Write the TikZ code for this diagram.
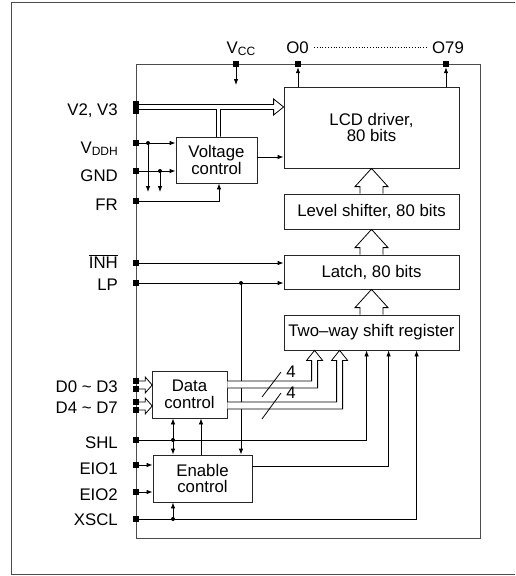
\documentclass[tikz,border=0pt]{standalone}
\usepackage{fontspec}
\setmainfont{Liberation Sans}
\usetikzlibrary{arrows.meta,calc}
\newcommand{\blockfont}{\fontsize{16.8}{16.8}\selectfont}
\newcommand{\pinsub}[1]{\raisebox{-0.3ex}{\fontsize{12}{12}\selectfont #1}}
\tikzset{
  >={Latex[length=6pt,width=4.5pt]},
  block/.style={
    draw=black!85,
    line width=0.8pt,
    fill=white,
    align=center,
    inner sep=0pt,
    font=\blockfont
  },
  padsq/.style={
    fill=black,
    inner sep=0pt,
    minimum size=6pt
  },
  plab/.style={
    anchor=base east,
    inner sep=0pt,
    font=\blockfont
  },
  toplab/.style={
    anchor=base,
    inner sep=0pt,
    font=\blockfont
  },
  wire/.style={
    line width=0.8pt,
    draw=black
  },
  arrow/.style={
    ->,
    wire
  },
  frame/.style={
    line width=1pt,
    draw=black!70
  }
}

\begin{document}
\begin{tikzpicture}[x=1pt,y=-1pt]
\useasboundingbox (0,0) rectangle (515,576);

% outer frame and chip outline
\draw[frame] (515,2) -- (11,2) -- (11,574) -- (515,574);
\draw[frame] (136,64) rectangle (480,538);

% blocks
\node[block, minimum width=175pt, minimum height=81pt] (lcd) at (371.5,127.5) {LCD driver,\\80 bits};
\node[block, minimum width=175pt, minimum height=35pt] (lvl) at (371.5,211.5) {Level shifter, 80 bits};
\node[block, minimum width=175pt, minimum height=34pt] (latch) at (371.5,272) {Latch, 80 bits};
\node[block, minimum width=175pt, minimum height=35pt] (shreg) at (371.5,332.5) {Two--way shift register};
\node[block, minimum width=81pt, minimum height=46pt] (vc) at (216.5,160) {Voltage\\control};
\node[block, minimum width=75pt, minimum height=47pt] (dctl) at (189.5,394.5) {Data\\control};
\node[block, minimum width=99pt, minimum height=47pt] (ectl) at (202.5,478.5) {Enable\\control};

% pads
\node[padsq] (vcc) at (236,64) {};
\node[padsq] (o0) at (298,64) {};
\node[padsq] (o79) at (446,64) {};
\node[padsq, minimum height=13pt] (v23) at (136,107) {};
\node[padsq] (vddh) at (136,143) {};
\node[padsq] (gnd) at (136,171) {};
\node[padsq] (fr) at (136,201) {};
\node[padsq] (inh) at (136,263) {};
\node[padsq] (lp) at (136,283) {};
\node[padsq] (pda) at (136,381) {};
\node[padsq] (pdb) at (136,389) {};
\node[padsq] (pdc) at (136,402) {};
\node[padsq] (pdd) at (136,410) {};
\node[padsq] (shl) at (136,440) {};
\node[padsq] (eio1) at (136,465) {};
\node[padsq] (eio2) at (136,492) {};
\node[padsq] (xscl) at (136,519) {};

% pad labels
\node[toplab] (lvcc) at (241,53) {V\pinsub{CC}};
\node[toplab] (lo0) at (297.5,53) {O0};
\node[toplab] (lo79) at (448,53) {O79};
\node[plab] (lv23) at (118,115) {V2, V3};
\node[plab] (lvddh) at (118,153) {V\pinsub{DDH}};
\node[plab] (lgnd) at (118,181) {GND};
\node[plab] (lfr) at (118,210) {FR};
\node[plab] (linh) at (118,268) {$\overline{\mbox{INH}}$};
\node[plab] (llp) at (118,290) {LP};
\node[plab] (ld0) at (118,392) {D0 \textasciitilde\ D3};
\node[plab] (ld4) at (118,413) {D4 \textasciitilde\ D7};
\node[plab] (lshl) at (118,448) {SHL};
\node[plab] (leio1) at (118,474) {EIO1};
\node[plab] (leio2) at (118,500) {EIO2};
\node[plab] (lxscl) at (118,525) {XSCL};

\draw[wire, dash pattern=on 0.8pt off 2pt] ([xshift=5pt]lo0.east) -- ([xshift=-5pt]lo79.west);

% supply and outputs
\coordinate (vccend) at ($(vcc)+(0,21)$);
\draw[arrow] (vcc.south) -- (vccend);
\draw[arrow] (lcd.north -| o0) -- (o0.south);
\draw[arrow] (lcd.north -| o79) -- (o79.south);

% V2, V3 bus
\draw[wire, fill=white] ($(v23.east)+(0,-2.5)$) -- ($(v23.east -| lcd.west)+(-10,-2.5)$) -- ++(0,-5.5)
  -- (v23.east -| lcd.west) -- ++(-10,8) -- ++(0,-5.5) -- ($(v23.east -| vc.north)+(4,2.5)$) -- ($(vc.north)+(4,0)$);
\draw[wire] ($(v23.east)+(0,2.5)$) -- ($(v23.east -| vc.north)+(0,2.5)$) -- (vc.north);

% voltage control inputs
\coordinate (vddhdot) at ($(vddh)+(12,0)$);
\coordinate (gnddot) at ($(gnd)+(24,0)$);
\draw[arrow] (vddh.east) -- (vddh -| vc.west);
\draw[arrow] (gnd.east) -- (gnd -| vc.west);
\draw[arrow] (vddhdot) -- ($(vddhdot)+(0,49)$);
\draw[arrow] (gnddot) -- ($(gnddot)+(0,21)$);
\fill (vddhdot) circle (2pt);
\fill (gnddot) circle (2pt);
\draw[arrow] (fr.east) -| ([xshift=2.5pt]vc.south);
\draw[arrow] ([yshift=3pt]vc.east) -- ([yshift=3pt]vc.east -| lcd.west);

% hollow arrows between stacked blocks
\foreach \lo/\hi in {lvl/lcd, latch/lvl, shreg/latch}{
  \draw[wire, fill=white] ($(\lo.north)+(-11.5,0)$) -- ++(0,-7) -- ++(-5,0) -- (\hi.south)
    -- ($(\lo.north)+(16.5,-7)$) -- ++(-5,0) -- ($(\lo.north)+(11.5,0)$);
}

% latch inputs
\coordinate (lpdot) at ($(lp)+(105,0)$);
\draw[arrow] (inh.east) -- (inh -| latch.west);
\draw[arrow] (lp.east) -- (lp -| latch.west);
\draw[arrow] (lpdot) -- (lpdot |- ectl.north);
\fill (lpdot) circle (2pt);

% data inputs
\draw[wire, fill=white] (pda.east) -- ++(6,0) -- ++(0,-4) -- ++(7,8) -- ++(-7,8) -- ++(0,-4) -- (pdb.east);
\draw[wire, fill=white] (pdc.east) -- ++(6,0) -- ++(0,-4) -- ++(7,8) -- ++(-7,8) -- ++(0,-4) -- (pdd.east);

% data buses into shift register
\coordinate (busa) at ($(shreg.south west)+(31,0)$);
\coordinate (busb) at ($(shreg.south west)+(56,0)$);
\draw[wire, fill=white] ($(dctl.east)+(0,-13.5)$) -| ($(busa)+(-3,10)$) -- ++(-5,0) -- (busa)
  -- ++(8,10) -- ++(-5,0) |- ($(dctl.east)+(0,-6.5)$);
\draw[wire, fill=white] ($(dctl.east)+(0,7.5)$) -| ($(busb)+(-3,10)$) -- ++(-5,0) -- (busb)
  -- ++(8,10) -- ++(-5,0) |- ($(dctl.east)+(0,14.5)$);
\draw[wire] (262,397) -- (281,372);
\draw[wire] (262,419) -- (281,393);
\node[font=\blockfont, inner sep=0pt] (wa) at (291,372) {4};
\node[font=\blockfont, inner sep=0pt] (wb) at (291,393) {4};

% control lines
\coordinate (shldot) at ($(shl)+(37,0)$);
\coordinate (xscldot) at ($(xscl)+(37,0)$);
\draw[arrow] (shl.east) -| ($(shreg.south west)+(83,0)$);
\draw[arrow] (shldot) -- (shldot |- dctl.south);
\draw[arrow] (shldot) -- (shldot |- ectl.north);
\fill (shldot) circle (2pt);
\draw[arrow] ([xshift=-1.5pt]ectl.north) -- ([xshift=-1.5pt]ectl.north |- dctl.south);
\draw[arrow] (eio1.east) -- (eio1 -| ectl.west);
\draw[arrow] (eio2.east) -- (eio2 -| ectl.west);
\draw[arrow] ([yshift=12.5pt]ectl.east) -| ($(shreg.south west)+(105,0)$);
\draw[arrow] (xscl.east) -| ($(shreg.south west)+(133,0)$);
\draw[arrow] (xscldot) -- (xscldot |- ectl.south);
\fill (xscldot) circle (2pt);

\end{tikzpicture}
\end{document}
